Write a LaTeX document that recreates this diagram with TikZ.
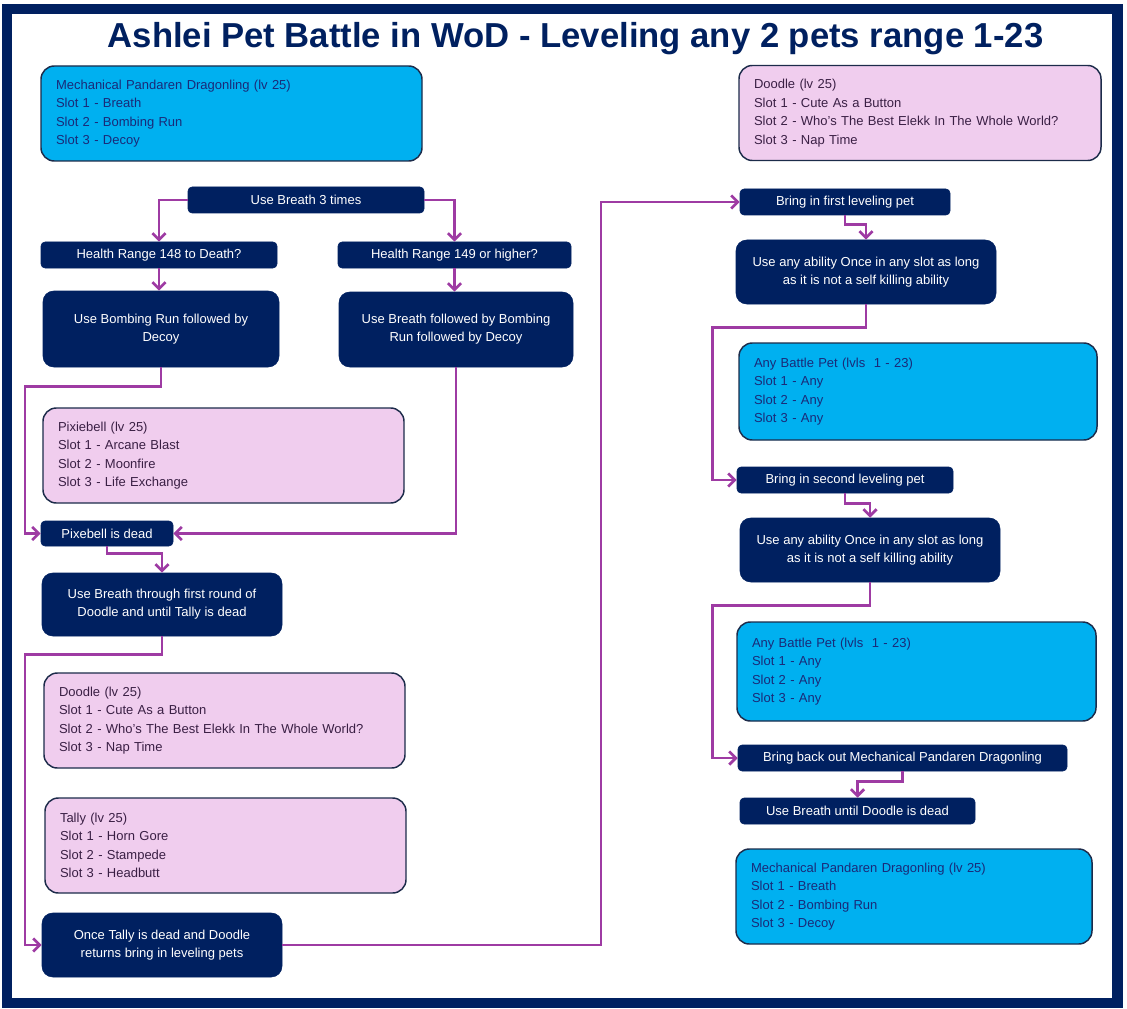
\documentclass[tikz,border=0pt]{standalone}
\usepackage{fontspec}
\setmainfont{Liberation Sans}
\usepackage{xcolor}
\usetikzlibrary{arrows.meta}
\definecolor{navy}{HTML}{002060}
\definecolor{petcyan}{HTML}{00B0F0}
\definecolor{petpink}{HTML}{F0CDEE}
\definecolor{flow}{HTML}{9E3BA3}
\definecolor{edge}{HTML}{1C2B4A}
\definecolor{cyantext}{HTML}{1A2A78}
\definecolor{pinktext}{HTML}{3A1F44}

\begin{document}
\begin{tikzpicture}[x=0.75pt, y=-0.75pt, font=\fontsize{9.75}{13.9}\selectfont,
    arr/.style={-{Straight Barb[length=5pt,width=10pt]}, draw=flow,
                line width=2pt},
    bar/.style={draw=navy, fill=navy, text=white, rounded corners=3pt,
                align=center, inner sep=0pt,
                minimum width=#1, minimum height=19.5pt},
    act/.style={bar=#1, rounded corners=8pt, minimum height=48pt,
                font=\fontsize{9.75}{13.5}\selectfont},
    pet/.style={draw=edge, line width=1.1pt, rounded corners=10pt,
                align=left, inner xsep=11.25pt, inner ysep=0pt,
                minimum height=71.25pt},
    mech/.style={pet, fill=petcyan, text=cyantext, text width=#1},
    foe/.style={pet, fill=petpink, text=pinktext, text width=#1},
    title/.style={font=\fontsize{26}{30}\selectfont\bfseries, text=navy}]

    \useasboundingbox (0,0) rectangle (1127,1009);
    \draw[navy, line width=8pt] (7,9) rectangle (1117.5,1003);

    \node[title, anchor=base] (head) at (575.5,48)
      {Ashlei Pet Battle in WoD - Leveling any 2 pets range 1-23};

    % left column
    \node[mech=263.25pt] (mpdA) at (231.5,113.5)
      {Mechanical Pandaren Dragonling (lv 25)\\Slot 1 - Breath\\
       Slot 2 - Bombing Run\\Slot 3 - Decoy};
    \node[bar=177pt] (breath3) at (306,200) {Use Breath 3 times};
    \node[bar=177pt] (hrlow) at (159,255) {Health Range 148 to Death?};
    \node[bar=174.75pt] (hrhigh) at (454.5,255) {Health Range 149 or higher?};
    \node[act=177pt, minimum height=57pt] (bomb) at (161,329)
      {Use Bombing Run followed by\\Decoy};
    \node[act=175.5pt, minimum height=56.25pt] (breathbomb) at (456,329.5)
      {Use Breath followed by Bombing\\Run followed by Decoy};
    \node[foe=248.25pt] (pixie) at (223.5,455.5)
      {Pixiebell (lv 25)\\Slot 1 - Arcane Blast\\Slot 2 - Moonfire\\
       Slot 3 - Life Exchange};
    \node[bar=99pt, minimum height=18.75pt] (pixedead) at (107,533.5)
      {Pixebell is dead};
    \node[act=180pt, minimum height=47.25pt] (breathround) at (162,604.5)
      {Use Breath through first round of\\Doodle and until Tally is dead};
    \node[foe=248.25pt] (doodleB) at (224.5,720.5)
      {Doodle (lv 25)\\Slot 1 - Cute As a Button\\
       Slot 2 - Who's The Best Elekk In The Whole World?\\Slot 3 - Nap Time};
    \node[foe=248.25pt] (tally) at (225.5,845.5)
      {Tally (lv 25)\\Slot 1 - Horn Gore\\Slot 2 - Stampede\\
       Slot 3 - Headbutt};
    \node[act=180pt] (once) at (162,945)
      {Once Tally is dead and Doodle\\returns bring in leveling pets};

    % right column
    \node[foe=249pt] (doodleA) at (920,113)
      {Doodle (lv 25)\\Slot 1 - Cute As a Button\\
       Slot 2 - Who's The Best Elekk In The Whole World?\\Slot 3 - Nap Time};
    \node[bar=157.5pt] (bringA) at (845,202) {Bring in first leveling pet};
    \node[act=195pt] (abilityA) at (866,272)
      {Use any ability Once in any slot as long\\as it is not a self killing ability};
    \node[mech=246pt, minimum height=72.75pt] (anyA) at (918,391.5)
      {Any Battle Pet (lvls~~1 - 23)\\Slot 1 - Any\\Slot 2 - Any\\Slot 3 - Any};
    \node[bar=162pt] (bringB) at (845,480) {Bring in second leveling pet};
    \node[act=195pt] (abilityB) at (870,550)
      {Use any ability Once in any slot as long\\as it is not a self killing ability};
    \node[mech=246.75pt, minimum height=74.25pt] (anyB) at (916.5,671.5)
      {Any Battle Pet (lvls~~1 - 23)\\Slot 1 - Any\\Slot 2 - Any\\Slot 3 - Any};
    \node[bar=246.75pt] (bringback) at (902.5,758)
      {Bring back out Mechanical Pandaren Dragonling};
    \node[bar=176.25pt] (breathuntil) at (857.5,811)
      {Use Breath until Doodle is dead};
    \node[mech=244.5pt] (mpdB) at (914,896.5)
      {Mechanical Pandaren Dragonling (lv 25)\\Slot 1 - Breath\\
       Slot 2 - Bombing Run\\Slot 3 - Decoy};

    % lanes
    \coordinate (laneL) at (25,0);
    \coordinate (laneM) at (601,0);
    \coordinate (laneR) at (712.5,0);

    % edges
    \draw[arr] (breath3.west) -| (hrlow.north);
    \draw[arr] (breath3.east) -| (hrhigh.north);
    \draw[arr] (hrlow.south) -- (hrlow.south |- bomb.north);
    \draw[arr] (hrhigh.south) -- (hrhigh.south |- breathbomb.north);
    \draw[arr] (bomb.south) -- ++(0,19) -| (laneL |- pixedead.west)
      -- (pixedead.west);
    \draw[arr] (breathbomb.south) |- (pixedead.east);
    \draw[arr] (pixedead.south) -- ++(0,7) -| (breathround.north);
    \draw[arr] (breathround.south) -- ++(0,18) -| (laneL |- once.west)
      -- (once.west);
    \draw[arr] (once.east) -- (laneM |- once.east) -- (laneM |- bringA.west)
      -- (bringA.west);
    \draw[arr] (bringA.south) -- ++(0,9) -| (abilityA.north);
    \draw[arr] (abilityA.south) -- ++(0,23) -| (laneR |- bringB.west)
      -- (bringB.west);
    \draw[arr] (bringB.south) -- ++(0,10) -| (abilityB.north);
    \draw[arr] (abilityB.south) -- ++(0,23) -| (laneR |- bringback.west)
      -- (bringback.west);
    \draw[arr] (bringback.south) -- ++(0,10) -| (breathuntil.north);
\end{tikzpicture}
\end{document}
